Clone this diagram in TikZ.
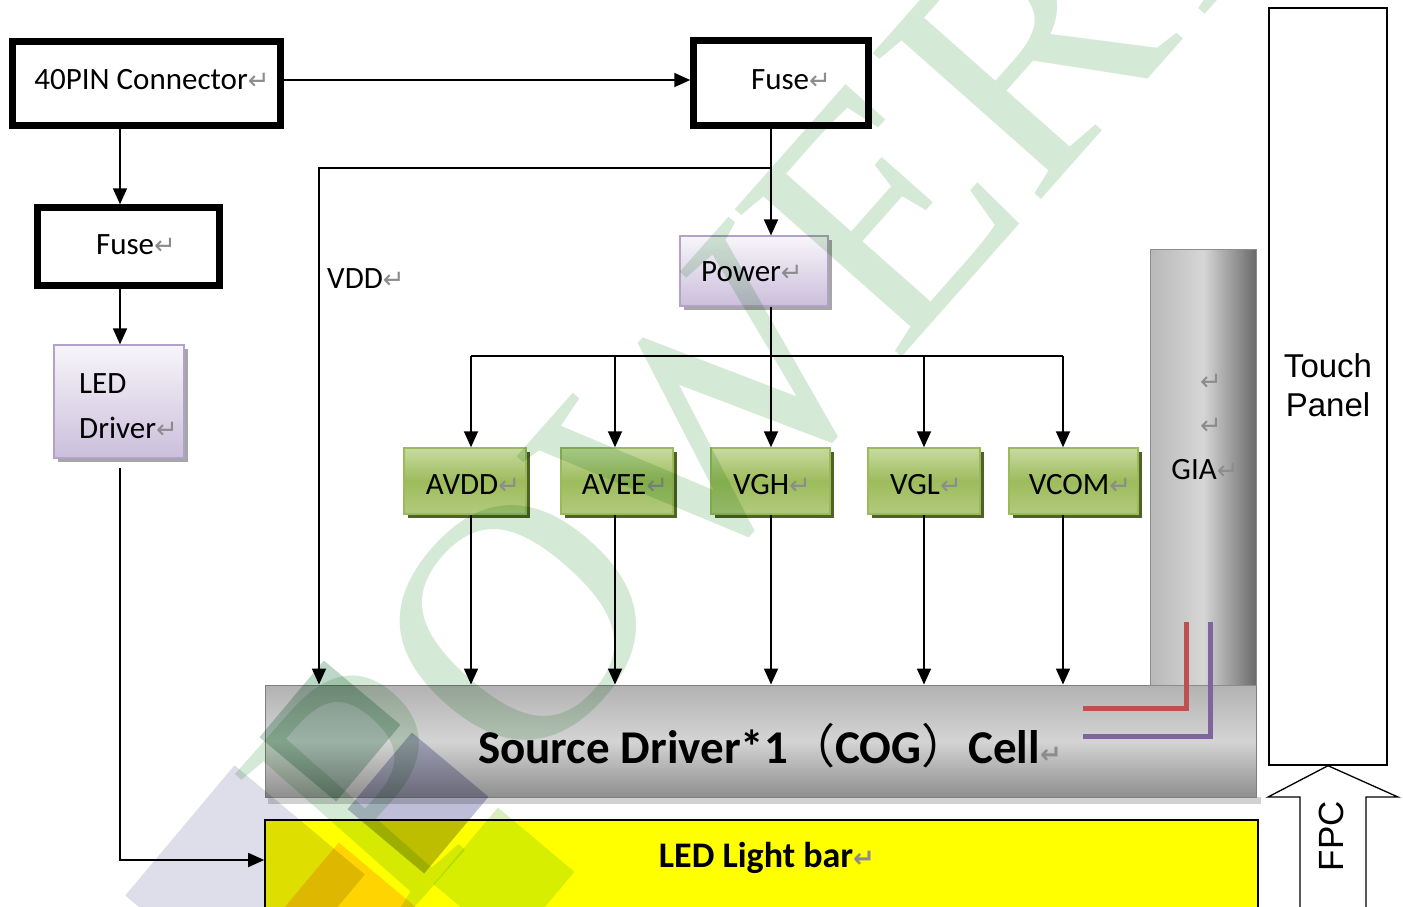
\documentclass[tikz,border=0pt]{standalone}
\usepackage{fontspec}
\setmainfont{Carlito}
\newfontfamily\arialf{Liberation Sans}
\newfontfamily\dejavu{DejaVu Sans}
\newfontfamily\cjkf{Noto Sans CJK SC}
\newfontfamily\wmfont{Liberation Serif}
\usetikzlibrary{arrows.meta,calc}
\definecolor{retgray}{HTML}{8C8C8C}
\definecolor{lavborder}{HTML}{B3A2C7}
\definecolor{lavtop}{HTML}{F7F5FA}
\definecolor{lavbot}{HTML}{CBBFDB}
\definecolor{grnborder}{HTML}{9BBB59}
\definecolor{grntop}{HTML}{C8DAA2}
\definecolor{grnmid}{HTML}{9DBC5C}
\definecolor{grnbot}{HTML}{B2CA7E}
\definecolor{grnshadow}{HTML}{4F6228}
\definecolor{srctop}{HTML}{B2B2B2}
\definecolor{srcmid}{HTML}{D4D4D4}
\definecolor{srcbot}{HTML}{8E8E8E}
\definecolor{gialeft}{HTML}{B8B8B8}
\definecolor{giamid}{HTML}{D6D6D6}
\definecolor{giaright}{HTML}{6A6A6A}
\definecolor{redl}{HTML}{C0504D}
\definecolor{purl}{HTML}{8064A2}
\definecolor{barfill}{HTML}{FFFF00}
\definecolor{wmgreen}{HTML}{D5EAD6}
\definecolor{wmlav}{HTML}{DEDEEA}
\definecolor{wmteal}{HTML}{BCD6C8}
\definecolor{wmslate}{HTML}{BEBED8}
\definecolor{wmorange}{HTML}{FFD400}
\definecolor{wmlime}{HTML}{D8EEC0}
\newcommand\rt{{\dejavu\color{retgray}\fontsize{26}{26}\selectfont ↵}}
\begin{document}
\begin{tikzpicture}[x=1pt,y=-1pt,
  txt/.style={font=\fontsize{31}{37}\selectfont, inner sep=0pt},
  thickbox/.style={draw, line width=6.5pt, fill=white, inner sep=0pt},
  lavbox/.style={draw=lavborder, line width=1.2pt, top color=lavtop, bottom color=lavbot, inner sep=0pt},
  grnbox/.style={draw=grnborder, line width=1.5pt, top color=grntop, bottom color=grnbot, middle color=grnmid, inner sep=0pt},
  conn/.style={line width=1.8pt},
  arr/.style={conn, -{Triangle[length=16pt,width=14pt]}},
  wmsq/.style={fill=#1, draw=white, line width=1pt},
]
\useasboundingbox (0,0) rectangle (1403,906);
\clip (0,0) rectangle (1403,906);
\fill[white] (0,0) rectangle (1403,906);

% coordinates for connector columns
\coordinate (xL) at (120,0);
\coordinate (xV) at (771,0);
\coordinate (yA) at (0,80);
\coordinate (yB) at (0,860);
\coordinate (jv) at (771,168);
\coordinate (vddc) at (319,168);
\coordinate (busL) at (471,356);
\coordinate (busE) at (615,356);
\coordinate (busC) at (771,356);
\coordinate (busG) at (924,356);
\coordinate (busR) at (1063,356);

% shadows
\fill[black!35] (58,349) rectangle (188,462);
\fill[black!35] (684,240) rectangle (832,310);
\foreach \a/\b in {404/526,561/673,711/830,868/980,1009/1138}
  \fill[grnshadow] (\a+4,452) rectangle (\b+4,518);
\fill[black!18] (268,797) rectangle (1261,804);

% boxes
\node[thickbox, minimum width=268pt, minimum height=84pt] (pin) at (146.5,83.5) {};
\node[thickbox, minimum width=175pt, minimum height=85pt] (fuseA) at (781,83) {};
\node[thickbox, minimum width=182pt, minimum height=78pt] (fuseB) at (128.5,246.5) {};
\node[lavbox, minimum width=130pt, minimum height=113pt] (led) at (119,401.5) {};
\node[lavbox, minimum width=148pt, minimum height=70pt] (power) at (754,271) {};
\node[grnbox, minimum width=122pt, minimum height=66pt] (avdd) at (465,481) {};
\node[grnbox, minimum width=112pt, minimum height=66pt] (avee) at (617,481) {};
\node[grnbox, minimum width=119pt, minimum height=66pt] (vgh) at (770.5,481) {};
\node[grnbox, minimum width=112pt, minimum height=66pt] (vgl) at (924,481) {};
\node[grnbox, minimum width=129pt, minimum height=66pt] (vcom) at (1073.5,481) {};
\node[draw=black!50, line width=1pt, top color=srctop, bottom color=srcbot, middle color=srcmid, minimum width=991pt, minimum height=112pt, inner sep=0pt] (src) at (760.5,741) {};
\node[draw=black!45, line width=1pt, left color=gialeft, right color=giaright, middle color=giamid, minimum width=106pt, minimum height=436pt, inner sep=0pt] (gia) at (1203,467) {};
\node[draw, line width=1.6pt, fill=barfill, minimum width=993pt, minimum height=92pt, inner sep=0pt] (bar) at (761.5,866) {};
\node[draw, line width=1.4pt, fill=white, minimum width=118pt, minimum height=757pt, inner sep=0pt] (tp) at (1328,386.5) {};

% red / purple traces
\draw[line width=5pt, redl] (1186,622) -- (1186,708) -- (1083,708);
\draw[line width=5pt, purl] (1210,622) -- (1210,736) -- (1083,736);

% FPC arrow
\draw[line width=1.3pt, fill=white] (1300,915) -- (1300,797) -- (1268,797) -- (tp.south) -- (1398,797) -- (1366,797) -- (1366,915);

% connectors
\draw[arr] (pin.east |- yA) -- (fuseA.west |- yA);
\draw[arr] (pin.south -| xL) -- (fuseB.north -| xL);
\draw[arr] (fuseB.south -| xL) -- (led.north -| xL);
\draw[arr] (xL |- 0,468) -- (xL |- yB) -- (bar.west |- yB);
\draw[arr] (fuseA.south -| xV) -- (power.north -| xV);
\draw[arr] (jv) -- (vddc) -- (vddc |- src.north);
\draw[conn] (power.south -| xV) -- (busC);
\draw[conn] (busL) -- (busR);
\draw[arr] (busL) -- (busL |- avdd.north);
\draw[arr] (busE) -- (busE |- avee.north);
\draw[arr] (busC) -- (busC |- vgh.north);
\draw[arr] (busG) -- (busG |- vgl.north);
\draw[arr] (busR) -- (busR |- vcom.north);
\draw[arr] (avdd.south -| busL) -- (busL |- src.north);
\draw[arr] (avee.south -| busE) -- (busE |- src.north);
\draw[arr] (vgh.south -| busC) -- (busC |- src.north);
\draw[arr] (vgl.south -| busG) -- (busG |- src.north);
\draw[arr] (vcom.south -| busR) -- (busR |- src.north);

% texts
\node[txt] (pint) at (152,80) {40PIN Connector\rt};
\node[txt] (fuseAt) at (791,80) {Fuse\rt};
\node[txt] (fuseBt) at (136,245) {Fuse\rt};
\node[txt, anchor=west] (ledt1) at (79,384) {LED};
\node[txt, anchor=west] (ledt2) at (79,428) {Driver\rt};
\node[txt] (powert) at (752,272) {Power\rt};
\node[txt, anchor=west] (vddt) at (327,279) {VDD\rt};
\node[txt] (avddt) at (473,485) {AVDD\rt};
\node[txt] (aveet) at (625,485) {AVEE\rt};
\node[txt] (vght) at (772,485) {VGH\rt};
\node[txt] (vglt) at (926,485) {VGL\rt};
\node[txt] (vcomt) at (1080,485) {VCOM\rt};
\node[txt] (giar1) at (1211,382) {\rt};
\node[txt] (giar2) at (1211,426) {\rt};
\node[txt] (giat) at (1205,470) {GIA\rt};
\node[inner sep=0pt, font=\bfseries\fontsize{47}{52}\selectfont] (srct) at (770,746) {Source Driver*1{\cjkf\mdseries （}COG{\cjkf\mdseries ）}Cell\rt};
\node[inner sep=0pt, font=\bfseries\fontsize{36}{40}\selectfont] (bart) at (767,858) {LED Light bar\rt};
\node[inner sep=0pt, align=center, font=\arialf\fontsize{33}{39}\selectfont] (tpt) at (1328,385) {Touch\\Panel};
\node[inner sep=0pt, rotate=90, font=\arialf\fontsize{35}{40}\selectfont] (fpct) at (1331,836) {FPC};

% watermark (multiply)
\begin{scope}[blend mode=multiply]
\fill[wmsq=wmlav, shift={(245,885)}, rotate=50] (-85,-85) rectangle (85,85);
\fill[wmsq=wmteal, shift={(330,731)}, rotate=50] (-50,-50) rectangle (50,50);
\fill[wmsq=wmslate, shift={(418,803)}, rotate=50] (-50,-50) rectangle (50,50);
\fill[wmsq=wmorange, shift={(345,913)}, rotate=50] (-50,-50) rectangle (50,50);
\fill[wmsq=wmlime, shift={(504,878)}, rotate=50] (-50,-50) rectangle (50,50);
\node[rotate=48.5, anchor=base west, text=wmgreen, inner sep=0pt, font=\wmfont\fontsize{340}{340}\selectfont] (wm) at (395,930) {POWERTIP};
\end{scope}
\end{tikzpicture}
\end{document}
